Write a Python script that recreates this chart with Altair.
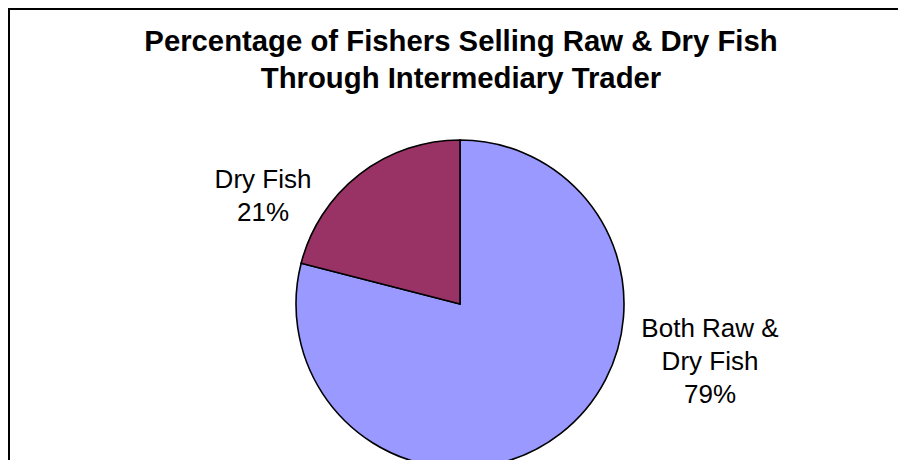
import altair as alt
import pandas as pd

# ---- data ----
categories = ["Both Raw & Dry Fish", "Dry Fish"]
values = [79, 21]
wrapped_names = ["Both Raw &\nDry Fish", "Dry Fish"]
colors = ["#9999FF", "#993366"]
title_lines = ["Percentage of Fishers Selling Raw & Dry Fish", "Through Intermediary Trader"]

df = pd.DataFrame({
    "category": categories,
    "value": values,
    "order": list(range(len(categories))),
    "label": [f"{n}\n{v}%" for n, v in zip(wrapped_names, values)],
})

FONT = "Liberation Sans"
W, H = 890, 452
CX, CY, R = 452, 296, 164

pie = alt.Chart(df).mark_arc(radius=R, stroke="black", strokeWidth=1.6).encode(
    theta=alt.Theta("value:Q", stack=True),
    color=alt.Color("category:N", scale=alt.Scale(domain=categories, range=colors), legend=None),
    order=alt.Order("order:Q"),
    x=alt.value(CX),
    y=alt.value(CY),
)

label_style = dict(font=FONT, fontSize=26, color="black", align="center",
                   baseline="alphabetic", lineBreak="\n", lineHeight=33)

lab_both = alt.Chart(df).transform_filter(
    alt.datum.category == categories[0]
).mark_text(x=702, y=329, **label_style).encode(text="label:N")

lab_dry = alt.Chart(df).transform_filter(
    alt.datum.category == categories[1]
).mark_text(x=255, y=180, **label_style).encode(text="label:N")

title = alt.Chart(pd.DataFrame({"t": ["\n".join(title_lines)]})).mark_text(
    x=453, y=43, font=FONT, fontSize=29.3, fontWeight="bold", color="black",
    align="center", baseline="alphabetic", lineBreak="\n", lineHeight=37,
).encode(text="t:N")

# chart frame: only top and left edges fall inside the picture
frame_left = alt.Chart(df).mark_rule(color="black", strokeWidth=2).encode(
    x=alt.value(1), y=alt.value(0), y2=alt.value(H)
)
frame_top = alt.Chart(df).mark_rule(color="black", strokeWidth=2).encode(
    x=alt.value(0), x2=alt.value(W), y=alt.value(1)
)

chart = alt.layer(frame_left, frame_top, pie, lab_both, lab_dry, title).properties(
    width=W, height=H, padding=0, autosize="none", background="white"
).configure_view(stroke=None)

chart.save("out.html", embed_options={"renderer": "svg", "actions": False})
